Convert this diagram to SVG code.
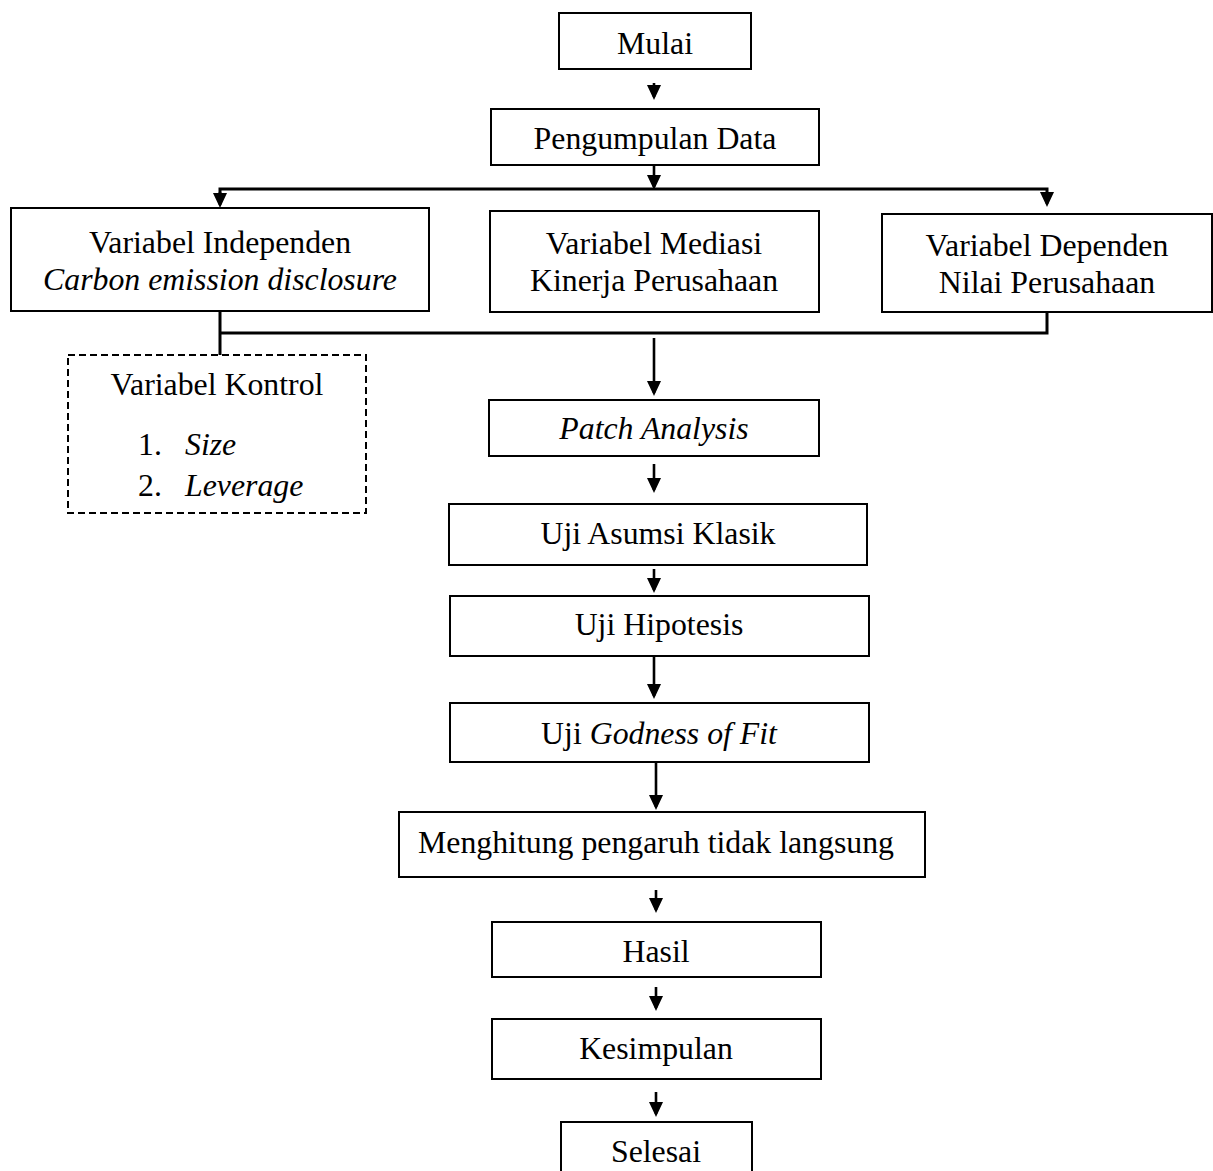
<svg xmlns="http://www.w3.org/2000/svg" width="1213" height="1171" viewBox="0 0 1213 1171">
<style>
.box{fill:#fff;stroke:#000;stroke-width:2}
.dash{fill:#fff;stroke:#000;stroke-width:2;stroke-dasharray:7 4}
.t{font-family:"Liberation Serif","Times New Roman",serif;font-size:31.8px;fill:#000;text-anchor:middle}
.l{text-anchor:start}
.i{font-style:italic}
.c{fill:none;stroke:#000;stroke-width:2.6}
.a{fill:none;stroke:#000;stroke-width:2.6;marker-end:url(#ah)}
</style>
<defs>
<marker id="ah" markerUnits="userSpaceOnUse" markerWidth="15" markerHeight="14" viewBox="0 0 15 14" refX="12" refY="7" orient="auto">
<path d="M0,0 L15,7 L0,14 z" fill="#000"/>
</marker>
</defs>
<rect width="1213" height="1171" fill="#fff"/>
<g id="connectors">
<path class="a" d="M654,83 V97"/>
<path class="a" d="M654,165 V187"/>
<path class="c" style="stroke-width:3" d="M220,196 V189 H1047 V196"/>
<path class="a" d="M220,192 V205"/>
<path class="a" d="M1047,192 V204"/>
<path class="c" style="stroke-width:3" d="M220,311 V355 M220,333 H1047 V312"/>
<path class="a" d="M654,338 V393"/>
<path class="a" d="M654,464 V490"/>
<path class="a" d="M654,569 V590"/>
<path class="a" d="M654,656 V696"/>
<path class="a" d="M656,762 V807"/>
<path class="a" d="M656,890 V910"/>
<path class="a" d="M656,987 V1008"/>
<path class="a" d="M656,1092 V1114"/>
</g>
<g id="mulai"><rect class="box" x="559" y="13" width="192" height="56"/><text class="t" x="655" y="54">Mulai</text></g>
<g id="pengumpulan"><rect class="box" x="491" y="109" width="328" height="56"/><text class="t" x="655" y="149">Pengumpulan Data</text></g>
<g id="independen"><rect class="box" x="11" y="208" width="418" height="103"/><text class="t" x="220" y="253">Variabel Independen</text><text class="t i" x="220" y="290">Carbon emission disclosure</text></g>
<g id="mediasi"><rect class="box" x="490" y="211" width="329" height="101"/><text class="t" x="654" y="254">Variabel Mediasi</text><text class="t" x="654" y="291">Kinerja Perusahaan</text></g>
<g id="dependen"><rect class="box" x="882" y="214" width="330" height="98"/><text class="t" x="1047" y="256">Variabel Dependen</text><text class="t" x="1047" y="293">Nilai Perusahaan</text></g>
<g id="kontrol"><rect class="dash" x="68" y="355" width="298" height="158"/><text class="t" x="217" y="395">Variabel Kontrol</text><text class="t l" x="138" y="455">1.</text><text class="t l i" x="185" y="455">Size</text><text class="t l" x="138" y="496">2.</text><text class="t l i" x="185" y="496">Leverage</text></g>
<g id="patch"><rect class="box" x="489" y="400" width="330" height="56"/><text class="t i" x="654" y="439">Patch Analysis</text></g>
<g id="asumsi"><rect class="box" x="449" y="504" width="418" height="61"/><text class="t" x="658" y="544">Uji Asumsi Klasik</text></g>
<g id="hipotesis"><rect class="box" x="450" y="596" width="419" height="60"/><text class="t" x="659" y="635">Uji Hipotesis</text></g>
<g id="godness"><rect class="box" x="450" y="703" width="419" height="59"/><text class="t" x="659" y="744">Uji <tspan class="i">Godness of Fit</tspan></text></g>
<g id="menghitung"><rect class="box" x="399" y="812" width="526" height="65"/><text class="t" x="656" y="853">Menghitung pengaruh tidak langsung</text></g>
<g id="hasil"><rect class="box" x="492" y="922" width="329" height="55"/><text class="t" x="656" y="962">Hasil</text></g>
<g id="kesimpulan"><rect class="box" x="492" y="1019" width="329" height="60"/><text class="t" x="656" y="1059">Kesimpulan</text></g>
<g id="selesai"><rect class="box" x="561" y="1122" width="191" height="60"/><text class="t" x="656" y="1162">Selesai</text></g>
</svg>
